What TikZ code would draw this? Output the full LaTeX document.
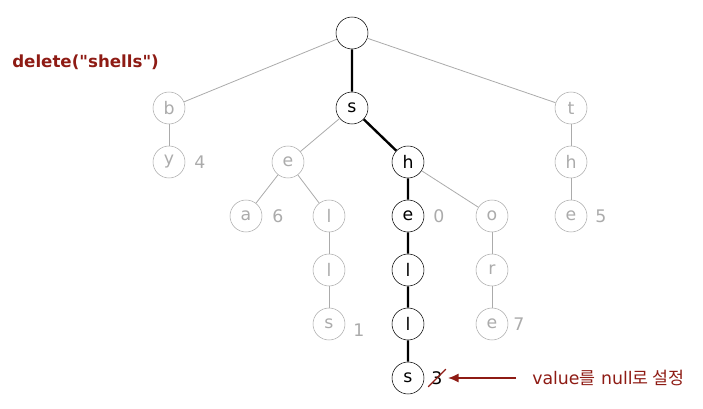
\documentclass[tikz,border=0pt]{standalone}
\usepackage{fontspec}
\setmainfont{DejaVu Sans}[Ligatures=TeXOff]
\newfontfamily\kofont{Noto Sans CJK KR}
\usetikzlibrary{arrows.meta}
\colorlet{faded}{black!33}
\definecolor{darkred}{HTML}{8E1B14}
\tikzstyle{key}=[circle,draw,minimum size=24pt,inner sep=0pt,font=\fontsize{13}{15}\selectfont]
\tikzstyle{gone}=[key,faded,text=faded]
\tikzstyle{val}=[inner sep=0pt,faded,font=\fontsize{13}{15}\selectfont]

\begin{document}
\begin{tikzpicture}[x=0.75pt,y=-0.75pt,
    link/.style={faded,line width=0.6pt},
    path/.style={black,line width=1.8pt}
  ]
  \useasboundingbox (0,0) rectangle (703,409);

  % TITLE
  \node[anchor=west,darkred,inner sep=0pt,font=\bfseries\fontsize{12.5}{15}\selectfont] (title) at (12,62) {delete("shells")};

  % KEYS
  \node[key] (rt) at (352,33) {};
  \node[gone] (b) at (169,108) {b};
  \node[key] (s) at (352,108) {s};
  \node[gone] (t) at (571,108) {t};
  \node[gone] (by) at (169,162) {y};
  \node[gone] (se) at (288,162) {e};
  \node[key] (sh) at (408,162) {h};
  \node[gone] (th) at (571,162) {h};
  \node[gone] (sea) at (246,216) {a};
  \node[gone] (sel) at (329,216) {l};
  \node[key] (she) at (408,216) {e};
  \node[gone] (sho) at (492,216) {o};
  \node[gone] (the) at (571,216) {e};
  \node[gone] (sell) at (329,270) {l};
  \node[key] (shel) at (408,270) {l};
  \node[gone] (shor) at (492,270) {r};
  \node[gone] (sells) at (329,324) {s};
  \node[key] (shell) at (408,324) {l};
  \node[gone] (shore) at (492,324) {e};
  \node[key] (shells) at (408,378) {s};

  % VALUES
  \node[val] (v-by) at (200,162) {4};
  \node[val] (v-sea) at (278,216) {6};
  \node[val] (v-she) at (439,216) {0};
  \node[val] (v-the) at (601,216) {5};
  \node[val] (v-sells) at (359,330) {1};
  \node[val] (v-shore) at (519,324) {7};
  \node[val,black] (v-shells) at (437,378) {3};
  \draw[darkred,line width=1pt] ([shift={(-3,2)}]v-shells.south west) -- ([shift={(3,-2)}]v-shells.north east);

  % LINKS
  \draw[link] (rt) -- (b);
  \draw[link] (rt) -- (t);
  \draw[link] (b) -- (by);
  \draw[link] (s) -- (se);
  \draw[link] (t) -- (th);
  \draw[link] (th) -- (the);
  \draw[link] (se) -- (sea);
  \draw[link] (se) -- (sel);
  \draw[link] (sel) -- (sell);
  \draw[link] (sell) -- (sells);
  \draw[link] (sh) -- (sho);
  \draw[link] (sho) -- (shor);
  \draw[link] (shor) -- (shore);

  % DELETED PATH
  \draw[path] (rt) -- (s) -- (sh) -- (she) -- (shel) -- (shell) -- (shells);

  % NOTE
  \node[anchor=west,darkred,inner sep=0pt,font=\fontsize{13}{15}\selectfont] (note) at (532,378) {value{\kofont 를} null{\kofont 로 설정}};
  \draw[-{Latex[length=8pt,width=7pt]},darkred,line width=1.3pt] ([xshift=-12]note.west) -- ++(-68,0) coordinate (tip);
\end{tikzpicture}
\end{document}
